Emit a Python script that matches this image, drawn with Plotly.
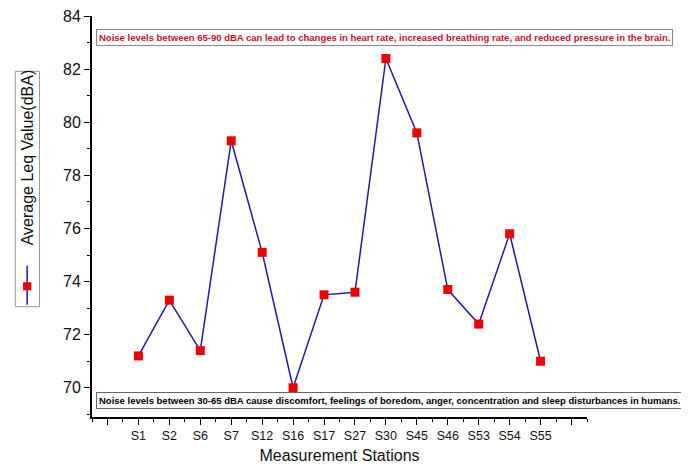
import plotly.graph_objects as go

stations = ["S1", "S2", "S6", "S7", "S12", "S16", "S17", "S27", "S30", "S45", "S46", "S53", "S54", "S55"]
leq = [71.2, 73.3, 71.4, 79.3, 75.1, 70.0, 73.5, 73.6, 82.4, 79.6, 73.7, 72.4, 75.8, 71.0]
positions = list(range(1, len(stations) + 1))
y_ticks = [70, 72, 74, 76, 78, 80, 82, 84]
series_name = "Average Leq Value(dBA)"
note_high = "Noise levels between 65-90 dBA can lead to changes in heart rate, increased breathing rate, and reduced pressure in the brain."
note_low = "Noise levels between 30-65 dBA cause discomfort, feelings of boredom, anger, concentration and sleep disturbances in humans."

fig = go.Figure()
fig.add_trace(go.Scatter(
    x=positions, y=leq, mode="lines+markers", name=series_name,
    line=dict(color="#1c1ca8", width=1.5),
    marker=dict(symbol="square", size=9, color="#ee0000"),
    showlegend=False,
))

# page body has an 8px default margin, so the figure is sized/offset to compensate
fig.update_layout(
    width=681, height=458,
    margin=dict(l=84, r=102, t=8, b=49),
    paper_bgcolor="white", plot_bgcolor="white",
    font=dict(family="Arial, Liberation Sans, sans-serif", color="#111"),
    xaxis=dict(
        range=[-0.5, 15.5], tickmode="array", tickvals=list(range(0, 16)),
        ticktext=[""] + stations + [""],
        ticks="outside", ticklen=6, tickwidth=1.3, tickcolor="black",
        minor=dict(ticks="outside", ticklen=3, tickwidth=1.3, tickcolor="black", dtick=0.5, tick0=-0.5),
        showline=True, linecolor="black", linewidth=2, showgrid=False, zeroline=False,
        tickfont=dict(size=12.5), automargin=False,
        title=dict(text="Measurement Stations", font=dict(size=16), standoff=8),
    ),
    yaxis=dict(
        range=[68.9, 84.0001], tickmode="array", tickvals=y_ticks,
        ticks="outside", ticklen=6, tickwidth=1.3, tickcolor="black",
        minor=dict(ticks="outside", ticklen=3, tickwidth=1.3, tickcolor="black", dtick=1, tick0=69),
        showline=True, linecolor="black", linewidth=2, showgrid=False, zeroline=False,
        tickfont=dict(size=16), automargin=False, ticklabeloverflow="allow",
    ),
)

# notes
fig.add_annotation(
    xref="paper", yref="paper", x=0.008, y=0.946, xanchor="left", yanchor="middle",
    text="<b>" + note_high + "</b>", showarrow=False,
    font=dict(size=9.5, color="#c8102e", family="Arial, Liberation Sans, sans-serif"),
    bordercolor="#888", borderwidth=1, borderpad=2, bgcolor="white",
)
fig.add_annotation(
    xref="paper", yref="paper", x=0.008, y=0.04, xanchor="left", yanchor="middle",
    text="<b>" + note_low + "</b>", showarrow=False,
    font=dict(size=9.5, color="black", family="Arial, Liberation Sans, sans-serif"),
    bordercolor="#666", borderwidth=1, borderpad=2, bgcolor="white",
)

# rotated legend box
fig.add_shape(type="rect", xref="paper", yref="paper",
              x0=-0.155, x1=-0.106, y0=0.275, y1=0.862,
              line=dict(color="#999", width=1), fillcolor="white")
fig.add_annotation(
    xref="paper", yref="paper", x=-0.131, y=0.648, xanchor="center", yanchor="middle",
    text=series_name, textangle=-90, showarrow=False,
    font=dict(size=16, color="#111"),
)
fig.add_shape(type="line", xref="paper", yref="paper",
              x0=-0.131, x1=-0.131, y0=0.28, y1=0.378,
              line=dict(color="#1c1ca8", width=1.5))
fig.add_shape(type="rect", xref="paper", yref="paper",
              x0=-0.1395, x1=-0.1225, y0=0.316, y1=0.336,
              line=dict(color="#ee0000", width=0), fillcolor="#ee0000")

fig.write_html("out.html")
